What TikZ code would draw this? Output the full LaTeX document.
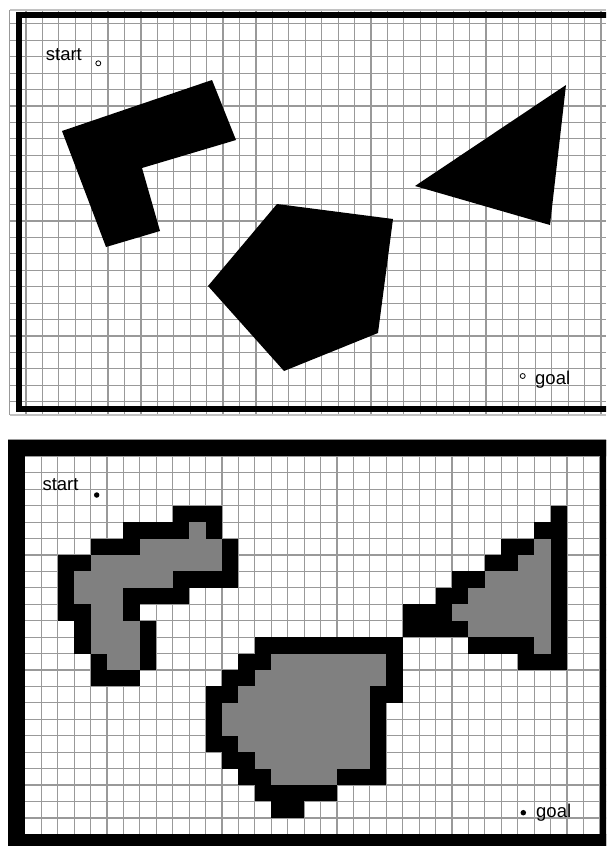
\documentclass[tikz,border=0pt]{standalone}
\usepackage{fontspec}
\setmainfont{Liberation Sans}
\usepackage{tikz}
\usetikzlibrary{calc}

\definecolor{gridgray}{gray}{0.6}
\definecolor{occgray}{gray}{0.5}

\begin{document}
\begin{tikzpicture}[x=1pt, y=-1pt,
  grd/.style={draw=gridgray, line width=1.2pt},
  obs/.style={fill=black},
  frm/.style={draw=black, line width=6.5pt, line join=miter},
  lbl/.style={inner sep=0pt, anchor=base west, font=\fontsize{18.5}{20}\selectfont},
  hole/.style={circle, draw, line width=0.8pt, inner sep=0pt, minimum size=5pt},
  dot/.style={circle, fill=black, inner sep=0pt, minimum size=5.5pt},
  wall/.style={fill=black},
  occ/.style={fill=occgray}
]
\useasboundingbox (0,0) rectangle (606,846);
\clip (0,0) rectangle (606,846);

% upper map: grid with polygon obstacles
\foreach \k in {0,...,36}
  \draw[grd] ({9.5+16.43*\k},10) -- ({9.5+16.43*\k},415);
\foreach \k in {1,...,24}
  \draw[grd] (9.5,{7.4+16.43*\k}) -- (606,{7.4+16.43*\k});
\draw[grd, draw=gridgray!60] (9.5,10) -- (606,10);
\draw[grd, draw=gridgray!60] (9.5,415) -- (606,415);

\fill[obs] (62,131) -- (212,80) -- (236,140) -- (142,168) -- (160,231) -- (106,247) -- cycle;
\fill[obs] (277,204) -- (393,219) -- (378,333) -- (284,371) -- (208,286) -- cycle;
\fill[obs] (415,186) -- (566,85) -- (550,225) -- cycle;

\draw[frm] (630,15) -- (19,15) -- (19,409) -- (630,409);

\node[lbl] (start) at (45.7,60) {start};
\node[hole] (s) at (98.3,63.3) {};
\node[hole] (g) at (522.7,376) {};
\node[lbl] (goal) at (535,384) {goal};

% lower map: occupancy cells
\begin{scope}[shift={(8.4pt,-440pt)}, x=16.43pt, y=-16.43pt]
  \foreach \k in {0,...,37}
    \draw[grd] (\k,0) -- (\k,25);
  \foreach \k in {0,...,25}
    \draw[grd] (0,\k) -- (37,\k);
  % border
  \fill[wall] (0,0) rectangle (37,1);
  \fill[wall] (0,24) rectangle (37,25);
  \fill[wall] (0,0) rectangle (1,25);
  \fill[wall] (36,0) rectangle (37,25);
  % inflated cells (row/from/to)
  \foreach \r/\a/\b in {4/10/12, 5/7/10, 5/12/12, 6/5/7, 6/13/13, 7/3/4, 7/13/13,
      8/3/3, 8/10/13, 9/3/3, 9/7/10, 10/3/4, 10/7/7, 11/4/4, 11/8/8,
      12/4/4, 12/8/8, 13/5/5, 13/8/8, 14/5/7,
      4/33/33, 5/32/33, 6/30/31, 6/33/33, 7/29/30, 7/33/33, 8/27/28, 8/33/33,
      9/26/27, 9/33/33, 10/24/26, 10/33/33, 11/24/27, 11/33/33, 12/28/31,
      12/33/33, 13/31/33,
      12/15/23, 13/14/15, 13/23/23, 14/13/14, 14/23/23, 15/12/13, 15/22/23,
      16/12/12, 16/22/22, 17/12/12, 17/22/22, 18/12/13, 18/22/22,
      19/13/14, 19/22/22, 20/14/15, 20/20/22, 21/15/19, 22/16/17}
    \fill[wall] (\a,\r) rectangle (\b+1,\r+1);
  % obstacle cells
  \foreach \r/\a/\b in {5/11/11, 6/8/12, 7/5/12, 8/4/9, 9/4/6, 10/5/6,
      11/5/7, 12/5/7, 13/6/7,
      6/32/32, 7/31/32, 8/29/32, 9/28/32, 10/27/32, 11/28/32, 12/32/32,
      13/16/22, 14/15/22, 15/14/21, 16/13/21, 17/13/21, 18/14/21,
      19/15/21, 20/16/19}
    \fill[occ] (\a,\r) rectangle (\b+1,\r+1);
\end{scope}

\node[lbl] (start2) at (42.3,490.7) {start};
\node[dot] (s2) at (96.7,495) {};
\node[dot] (g2) at (523.3,812.7) {};
\node[lbl] (goal2) at (536,817) {goal};
\end{tikzpicture}
\end{document}
